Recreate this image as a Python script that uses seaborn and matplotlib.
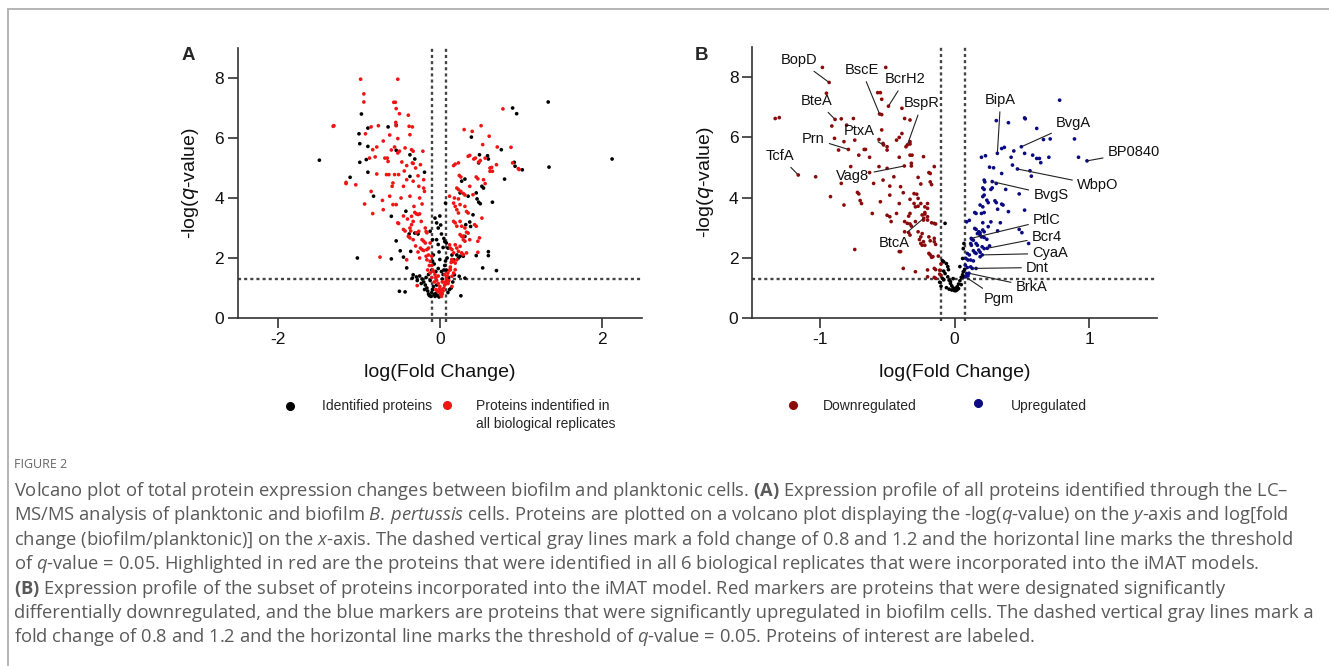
import numpy as np
import pandas as pd
import matplotlib
matplotlib.use("Agg")
import matplotlib.pyplot as plt
import seaborn as sns
from matplotlib.lines import Line2D

# ---- panel A: all identified proteins (x = log fold change, y = -log q) ----
a_identified = [
    (-1.49, 5.26), (-1.11, 4.69), (-1.02, 2.00), (-1.00, 6.14), (-0.97, 6.80), (-0.99, 5.81),
    (-0.99, 5.19), (-0.89, 6.33), (-0.89, 5.72), (-0.91, 5.28), (-0.89, 4.86), (-0.82, 4.06),
    (-0.64, 6.37), (-0.54, 6.43), (-0.54, 5.59), (-0.37, 5.44), (-0.31, 5.30), (-0.37, 4.72),
    (-0.19, 4.86), (-0.42, 3.56), (-0.60, 3.39), (-0.38, 2.80), (-0.54, 2.57), (-0.31, 2.83),
    (-0.27, 2.80), (-0.49, 2.24), (-0.36, 2.22), (-0.41, 1.67), (-0.45, 2.03), (-0.60, 1.97),
    (-0.50, 0.89), (-0.43, 0.87), (-0.33, 1.44), (-0.34, 1.33), (-0.29, 1.37), (-0.12, 2.89),
    (-0.09, 2.61), (-0.08, 2.10), (-0.09, 1.89), (-0.06, 3.33), (-0.04, 3.17), (-0.02, 3.00),
    (0.02, 2.80), (-0.04, 2.61), (0.07, 3.83), (0.06, 2.55), (0.08, 2.50), (0.10, 2.33),
    (0.15, 2.10), (0.17, 1.94), (0.21, 2.10), (0.23, 2.00), (0.29, 2.72), (0.31, 2.72),
    (0.32, 3.11), (0.37, 3.20), (0.38, 3.05), (0.41, 3.44), (0.27, 4.56), (0.31, 4.63),
    (0.35, 4.06), (0.25, 4.17), (0.45, 4.17), (0.46, 3.97), (0.48, 3.86), (0.50, 3.81),
    (0.52, 4.39), (0.54, 4.33), (0.39, 6.03), (0.48, 5.17), (0.49, 5.44), (0.59, 5.41),
    (0.60, 5.30), (0.65, 3.86), (0.76, 5.61), (0.80, 4.63), (0.90, 7.00), (0.95, 6.81),
    (0.92, 5.19), (0.93, 5.06), (1.02, 4.94), (1.34, 7.20), (1.35, 5.03), (2.13, 5.30),
    (0.60, 2.21), (0.60, 2.08), (0.70, 1.58), (0.53, 1.67), (0.45, 2.08), (0.29, 2.06),
    (0.25, 2.06), (0.26, 0.74), (0.31, 1.33), (0.24, 1.39), (0.18, 1.44),
    (-0.25, 1.40), (-0.22, 1.30), (-0.20, 1.20), (-0.18, 1.10), (-0.16, 1.00), (-0.15, 0.90),
    (-0.14, 0.80), (-0.13, 0.75), (-0.11, 0.72), (-0.10, 0.85), (-0.09, 0.95), (-0.08, 1.05),
    (-0.07, 0.78), (-0.06, 0.72), (-0.05, 0.82), (-0.04, 1.10), (-0.03, 0.75), (-0.01, 0.70),
    (0.01, 0.82), (0.03, 1.30), (0.04, 1.45), (0.05, 1.60), (0.06, 1.75), (0.07, 1.90),
    (0.09, 2.00), (0.02, 1.55), (-0.02, 1.65), (-0.05, 1.55), (-0.12, 1.25), (-0.14, 1.45),
    (-0.17, 1.35), (-0.19, 0.95), (-0.23, 1.15), (-0.28, 1.25), (0.10, 0.85), (0.12, 0.95),
    (0.14, 1.00), (0.16, 1.20), (0.11, 1.35), (0.08, 1.60), (-0.10, 1.60), (-0.07, 1.80),
    (-0.01, 2.20), (0.00, 1.95), (0.04, 2.35), (0.05, 2.65), (-0.02, 2.45), (0.01, 3.10),
    (0.00, 3.40),
]

a_all_reps = [
    (-0.98, 7.96), (-0.52, 7.96), (-0.94, 7.47), (-0.94, 7.20), (-0.57, 7.19), (-0.55, 7.19),
    (-0.54, 6.98), (-0.50, 6.81), (-0.39, 6.76), (-1.32, 6.39), (-1.31, 6.41), (-0.76, 6.41),
    (-0.85, 6.37), (-0.92, 6.14), (-0.545, 6.52), (-0.54, 6.41), (-0.38, 6.39), (-0.34, 6.37),
    (-0.52, 5.98), (-0.37, 6.11), (-0.78, 5.70), (-0.83, 5.61), (-0.87, 5.33), (-0.80, 5.37),
    (-0.68, 5.33), (-0.65, 5.33), (-0.56, 5.70), (-0.43, 5.67), (-0.50, 5.56), (-0.52, 5.50),
    (-0.35, 5.61), (-0.33, 5.56), (-0.21, 5.56), (-0.64, 5.22), (-0.34, 5.17), (-0.33, 5.15),
    (-0.41, 5.08), (-0.24, 5.11), (-1.16, 4.52), (-1.16, 4.48), (-1.04, 4.44), (-0.93, 3.80),
    (-0.83, 3.48), (-0.78, 4.80), (-0.66, 4.78), (-0.63, 4.78), (-0.56, 4.78), (-0.51, 4.78),
    (-0.41, 4.61), (-0.27, 4.74), (-0.20, 4.61), (-0.58, 4.50), (-0.59, 4.39), (-0.45, 4.39),
    (-0.33, 4.56), (-0.26, 4.39), (-0.85, 4.22), (-0.62, 4.06), (-0.71, 3.92), (-0.70, 3.61),
    (-0.58, 3.78), (-0.54, 3.78), (-0.37, 4.06), (-0.32, 3.72), (-0.31, 3.52), (-0.29, 3.47),
    (-0.27, 3.45), (-0.25, 3.47), (-0.35, 3.39), (-0.20, 4.33), (-0.19, 4.22), (-0.33, 3.22),
    (-0.35, 3.11), (-0.23, 3.22), (-0.52, 3.17), (-0.51, 3.15), (-0.45, 2.95), (-0.43, 2.90),
    (-0.37, 3.00), (-0.36, 2.90), (-0.39, 2.72), (-0.37, 2.67), (-0.33, 2.61), (-0.29, 2.84),
    (-0.26, 2.89), (-0.17, 2.88), (-0.16, 2.84), (-0.22, 2.61), (-0.20, 2.56), (-0.18, 2.50),
    (-0.24, 2.33), (-0.22, 2.28), (-0.20, 2.25), (-0.16, 2.28), (-0.14, 2.33), (-0.17, 2.06),
    (-0.16, 1.94), (-0.12, 1.89), (-0.10, 2.06), (-0.74, 2.03), (-0.41, 1.94), (-0.28, 1.08),
    (-0.30, 2.40), (-0.27, 2.20), (-0.25, 2.00), (-0.45, 3.40), (-0.40, 3.30), (-0.48, 4.00),
    (-0.44, 4.90), (-0.60, 5.60), (-0.70, 5.90), (-0.62, 6.10), (-0.47, 5.20), (-0.30, 5.00),
    (-0.25, 4.00), (-0.22, 3.80), (-0.18, 3.00), (-0.12, 2.50), (-0.14, 2.10), (-0.10, 1.75),
    (-0.09, 1.60),
    (-0.08, 1.55), (-0.06, 1.45), (-0.05, 1.35), (-0.04, 1.25), (-0.02, 1.15), (0.00, 1.05),
    (0.02, 0.95), (-0.03, 0.90), (0.00, 0.85), (0.01, 0.78), (0.03, 0.80), (0.04, 0.90),
    (0.05, 1.00), (0.06, 1.10), (0.07, 1.20), (0.08, 1.30), (-0.01, 0.95), (-0.07, 1.20),
    (-0.10, 1.35), (-0.12, 1.50), (-0.15, 1.60), (-0.13, 1.75), (0.09, 1.40), (0.10, 1.50),
    (0.12, 1.60), (0.11, 1.25), (0.10, 1.15), (0.03, 1.20), (-0.02, 1.40), (0.02, 0.72),
    (-0.05, 0.95), (0.06, 1.45), (0.13, 1.70), (0.14, 1.85), (0.15, 1.95),
    (0.78, 6.97), (0.51, 6.41), (0.30, 6.28), (0.40, 6.22), (0.61, 6.06), (0.53, 5.78),
    (0.71, 5.70), (0.88, 5.69), (0.35, 5.39), (0.37, 5.42), (0.42, 5.30), (0.44, 5.33),
    (0.17, 5.08), (0.19, 5.13), (0.23, 5.17), (0.48, 5.20), (0.50, 5.25), (0.56, 5.33),
    (0.62, 5.00), (0.64, 5.02), (0.65, 4.89), (0.62, 4.89), (0.70, 5.11), (0.90, 5.17),
    (0.97, 4.98), (0.98, 4.95), (0.24, 4.75), (0.26, 4.70), (0.45, 4.70), (0.47, 4.64),
    (0.54, 4.61), (0.56, 4.48), (0.21, 4.33), (0.23, 4.28), (0.26, 4.22), (0.12, 4.06),
    (0.18, 4.00), (0.23, 3.97), (0.29, 4.15), (0.31, 4.10), (0.37, 4.39), (0.41, 4.11),
    (0.17, 3.83), (0.19, 3.72), (0.21, 3.61), (0.23, 3.50), (0.25, 3.78), (0.31, 3.72),
    (0.33, 3.55), (0.35, 3.50), (0.17, 3.22), (0.19, 3.17), (0.21, 3.06), (0.25, 3.22),
    (0.27, 3.06), (0.31, 3.00), (0.33, 2.86), (0.43, 3.11), (0.45, 3.06), (0.52, 3.33),
    (0.25, 2.78), (0.27, 2.72), (0.29, 2.61), (0.31, 2.56), (0.29, 2.72), (0.35, 2.83),
    (0.37, 2.61), (0.49, 2.67), (0.47, 2.56), (0.12, 2.44), (0.13, 2.33), (0.15, 2.28),
    (0.17, 2.17), (0.19, 2.44), (0.21, 2.33), (0.23, 2.22), (0.25, 2.39), (0.27, 2.17),
    (0.29, 2.11), (0.33, 2.17), (0.47, 2.19), (0.15, 1.94), (0.17, 1.89), (0.19, 1.83),
    (0.21, 1.94), (0.13, 1.61), (0.17, 1.50), (0.19, 1.61), (0.15, 1.39), (0.08, 1.22),
    (0.10, 1.17), (0.06, 1.11), (0.15, 1.05),
]

# ---- panel B: iMAT subset ----
b_down = [
    (-0.98, 8.33), (-0.93, 7.83), (-0.95, 7.47), (-0.51, 8.33), (-0.57, 7.49), (-0.55, 7.49),
    (-0.54, 7.27), (-0.49, 7.04), (-0.39, 6.97), (-1.33, 6.63), (-1.30, 6.66), (-0.886, 6.60),
    (-0.84, 6.62), (-0.75, 6.63), (-0.80, 6.41), (-0.91, 6.38), (-0.556, 6.78), (-0.54, 6.76),
    (-0.37, 6.63), (-0.33, 6.58), (-0.54, 6.25), (-0.89, 5.97), (-0.82, 5.86), (-0.74, 5.91),
    (-0.56, 5.93), (-0.53, 5.80), (-0.526, 5.75), (-0.50, 5.69), (-0.43, 5.91), (-0.41, 6.00),
    (-0.39, 6.13), (-0.33, 5.86), (-0.33, 5.78), (-0.35, 5.75), (-0.36, 5.69), (-0.86, 5.58),
    (-0.67, 5.60), (-0.66, 5.60), (-0.787, 5.60), (-0.71, 5.41), (-0.63, 5.34), (-0.50, 5.58),
    (-0.41, 5.34), (-0.33, 5.41), (-0.315, 5.41), (-0.23, 5.36), (-0.77, 5.03), (-0.56, 5.03),
    (-0.50, 4.97), (-0.372, 5.05), (-0.32, 5.14), (-0.32, 5.05), (-0.15, 5.03), (-1.159, 4.75),
    (-1.03, 4.69), (-0.63, 4.83), (-0.53, 4.58), (-0.45, 4.69), (-0.27, 4.67), (-0.19, 4.83),
    (-0.18, 4.80), (-0.84, 4.47), (-0.60, 4.47), (-0.48, 4.38), (-0.40, 4.36), (-0.25, 4.45),
    (-0.18, 4.52), (-0.17, 4.43), (-0.72, 4.17), (-0.71, 4.12), (-0.92, 4.03), (-0.48, 4.08),
    (-0.38, 4.16), (-0.30, 4.13), (-0.28, 4.11), (-0.33, 3.94), (-0.27, 3.97), (-0.25, 3.80),
    (-0.70, 3.90), (-0.69, 3.80), (-0.82, 3.75), (-0.55, 3.86), (-0.41, 3.80), (-0.30, 3.80),
    (-0.29, 3.69), (-0.27, 3.71), (-0.22, 3.69), (-0.20, 3.64), (-0.20, 3.80), (-0.61, 3.47),
    (-0.50, 3.41), (-0.48, 3.36), (-0.43, 3.47), (-0.33, 3.47), (-0.34, 3.38), (-0.24, 3.42),
    (-0.22, 3.45), (-0.23, 3.25), (-0.228, 3.31), (-0.22, 3.50), (-0.20, 3.36), (-0.20, 3.25),
    (-0.47, 3.20), (-0.37, 3.20), (-0.35, 3.14), (-0.33, 3.12), (-0.32, 3.05), (-0.29, 3.20),
    (-0.17, 3.16), (-0.15, 3.14), (-0.14, 3.12), (-0.37, 2.86), (-0.34, 2.83), (-0.33, 2.75),
    (-0.27, 2.86), (-0.24, 2.80), (-0.25, 2.69), (-0.26, 2.60), (-0.23, 2.53), (-0.19, 2.69),
    (-0.18, 2.56), (-0.15, 2.64), (-0.25, 2.47), (-0.24, 2.41), (-0.22, 2.41), (-0.15, 2.53),
    (-0.14, 2.44), (-0.19, 2.14), (-0.18, 2.09), (-0.17, 2.01), (-0.16, 2.03), (-0.12, 2.05),
    (-0.41, 2.20), (-0.40, 2.20), (-0.74, 2.27), (-0.38, 1.64), (-0.29, 1.53), (-0.20, 1.59),
    (-0.15, 1.64), (-0.14, 1.60), (-0.11, 1.58), (-0.10, 1.79), (-0.20, 1.36), (-0.15, 1.34),
    (-0.14, 1.31), (-0.11, 1.45), (-0.10, 1.41),
]

b_up = [
    (0.78, 7.24), (0.31, 6.56), (0.40, 6.49), (0.52, 6.65), (0.525, 6.62), (0.61, 6.30),
    (0.66, 5.93), (0.71, 5.95), (0.89, 5.95), (0.496, 5.69), (0.52, 5.47), (0.58, 5.41),
    (0.61, 5.30), (0.63, 5.30), (0.64, 5.16), (0.70, 5.34), (0.92, 5.34), (0.983, 5.22),
    (0.318, 5.47), (0.35, 5.63), (0.37, 5.67), (0.44, 5.55), (0.42, 5.34), (0.20, 5.34),
    (0.23, 5.39), (0.26, 5.01), (0.29, 4.99), (0.43, 5.08), (0.467, 4.95), (0.56, 4.89),
    (0.57, 4.71), (0.35, 4.80), (0.22, 4.58), (0.225, 4.52), (0.28, 4.53), (0.31, 4.47),
    (0.21, 4.32), (0.22, 4.27), (0.27, 4.27), (0.28, 4.32), (0.38, 4.27), (0.48, 4.12),
    (0.22, 4.08), (0.21, 4.03), (0.24, 3.91), (0.25, 3.83), (0.30, 3.89), (0.31, 3.83),
    (0.35, 3.78), (0.36, 3.75), (0.19, 3.75), (0.21, 3.69), (0.15, 3.50), (0.16, 3.47),
    (0.20, 3.47), (0.22, 3.50), (0.32, 3.61), (0.40, 3.53), (0.52, 3.58), (0.09, 3.19),
    (0.11, 3.24), (0.21, 3.16), (0.27, 3.19), (0.34, 3.16), (0.15, 2.97), (0.16, 2.94),
    (0.18, 2.86), (0.19, 2.83), (0.21, 2.92), (0.22, 2.86), (0.25, 3.03), (0.32, 2.89),
    (0.48, 2.94), (0.50, 2.83), (0.124, 2.64), (0.13, 2.61), (0.14, 2.58), (0.17, 2.80),
    (0.19, 2.75), (0.20, 2.69), (0.22, 2.67), (0.24, 2.61), (0.243, 2.31), (0.12, 2.47),
    (0.125, 2.41), (0.16, 2.47), (0.17, 2.41), (0.205, 2.36), (0.22, 2.30), (0.26, 2.39),
    (0.55, 2.47), (0.14, 2.23), (0.15, 2.17), (0.16, 2.14), (0.18, 2.25), (0.19, 2.18),
    (0.206, 2.09), (0.095, 2.14), (0.11, 2.09), (0.085, 1.97), (0.10, 1.92), (0.12, 1.92),
    (0.14, 1.89), (0.19, 2.03), (0.08, 1.75), (0.095, 1.67), (0.12, 1.69), (0.132, 1.64),
    (0.16, 1.64), (0.09, 1.47), (0.10, 1.39), (0.107, 1.48), (0.082, 1.36),
]

b_ns = [
    (-0.07, 3.14), (0.065, 2.30), (0.07, 2.47), (-0.09, 1.90), (-0.08, 1.86), (-0.05, 1.70),
    (-0.045, 1.60), (-0.07, 1.47), (-0.05, 1.36), (-0.04, 1.25), (-0.03, 1.14), (-0.02, 1.06),
    (-0.01, 0.99), (0.00, 0.94), (0.01, 0.98), (0.00, 0.90), (0.01, 0.90), (0.02, 1.03),
    (0.03, 1.12), (0.04, 1.23), (0.05, 1.34), (0.06, 1.43), (0.065, 1.53), (0.075, 1.61),
    (0.07, 1.36), (-0.09, 1.31), (-0.08, 1.26), (-0.03, 1.20), (0.06, 1.97), (-0.06, 1.00),
    (-0.04, 0.95), (-0.02, 0.92), (0.02, 0.93), (0.03, 0.97), (-0.08, 1.55), (-0.06, 1.80),
    (0.04, 1.70), (0.05, 1.10), (-0.01, 1.30), (-0.10, 1.05), (-0.11, 1.18),
]

# labelled proteins: name, point, text position
b_labels = [
    ("BopD", (-0.93, 7.83), (-1.154, 8.57)),
    ("BscE", (-0.556, 6.78), (-0.69, 8.24)),
    ("BcrH2", (-0.49, 7.04), (-0.365, 7.93)),
    ("BteA", (-0.886, 6.60), (-1.02, 7.21)),
    ("BspR", (-0.35, 5.75), (-0.24, 7.13)),
    ("PtxA", (-0.526, 5.75), (-0.71, 6.22)),
    ("Prn", (-0.787, 5.60), (-1.047, 5.96)),
    ("TcfA", (-1.159, 4.75), (-1.295, 5.38)),
    ("Vag8", (-0.372, 5.05), (-0.754, 4.71)),
    ("BtcA", (-0.228, 3.31), (-0.45, 2.47)),
    ("BipA", (0.318, 5.47), (0.342, 7.24)),
    ("BvgA", (0.496, 5.69), (0.883, 6.47)),
    ("BP0840", (0.983, 5.22), (1.33, 5.50)),
    ("WbpO", (0.467, 4.95), (1.062, 4.41)),
    ("BvgS", (0.28, 4.53), (0.715, 4.08)),
    ("PtlC", (0.124, 2.64), (0.685, 3.25)),
    ("Bcr4", (0.243, 2.31), (0.685, 2.70)),
    ("CyaA", (0.206, 2.09), (0.71, 2.14)),
    ("Dnt", (0.132, 1.64), (0.615, 1.67)),
    ("BrkA", (0.107, 1.48), (0.571, 1.03)),
    ("Pgm", (0.082, 1.36), (0.33, 0.61)),
]

caption_lines = [
    r"Volcano plot of total protein expression changes between biofilm and planktonic cells. $\mathbf{(A)}$ Expression profile of all proteins identified through the LC–",
    r"MS/MS analysis of planktonic and biofilm $\mathit{B.\,pertussis}$ cells. Proteins are plotted on a volcano plot displaying the -log($\mathit{q}$-value) on the $\mathit{y}$-axis and log[fold",
    r"change (biofilm/planktonic)] on the $\mathit{x}$-axis. The dashed vertical gray lines mark a fold change of 0.8 and 1.2 and the horizontal line marks the threshold",
    r"of $\mathit{q}$-value = 0.05. Highlighted in red are the proteins that were identified in all 6 biological replicates that were incorporated into the iMAT models.",
    r"$\mathbf{(B)}$ Expression profile of the subset of proteins incorporated into the iMAT model. Red markers are proteins that were designated significantly",
    r"differentially downregulated, and the blue markers are proteins that were significantly upregulated in biofilm cells. The dashed vertical gray lines mark a",
    r"fold change of 0.8 and 1.2 and the horizontal line marks the threshold of $\mathit{q}$-value = 0.05. Proteins of interest are labeled.",
]

RED = "#f01414"
DARKRED = "#8b0a0a"
NAVY = "#0a0a82"
GRID = "#444444"

sns.set_style("ticks")
plt.rcParams["font.family"] = ["Liberation Sans", "DejaVu Sans"]
plt.rcParams["axes.unicode_minus"] = False
plt.rcParams["mathtext.fontset"] = "custom"
plt.rcParams["mathtext.rm"] = "Open Sans"
plt.rcParams["mathtext.it"] = "Open Sans:italic"
plt.rcParams["mathtext.bf"] = "Open Sans:bold"

W, H = 1329, 666
fig = plt.figure(figsize=(W / 100, H / 100), dpi=100)
axA = fig.add_axes([237.7 / W, 1 - 318 / H, 404.3 / W, 270 / H])
axB = fig.add_axes([752.3 / W, 1 - 317.7 / H, 404.4 / W, 270.4 / H])

dfA = pd.concat([
    pd.DataFrame(a_identified, columns=["fc", "q"]).assign(group="Identified proteins"),
    pd.DataFrame(a_all_reps, columns=["fc", "q"]).assign(group="All replicates"),
])
dfB = pd.concat([
    pd.DataFrame(b_ns, columns=["fc", "q"]).assign(group="ns"),
    pd.DataFrame(b_down, columns=["fc", "q"]).assign(group="Downregulated"),
    pd.DataFrame(b_up, columns=["fc", "q"]).assign(group="Upregulated"),
])

sns.scatterplot(data=dfA, x="fc", y="q", hue="group", ax=axA, s=7, linewidth=0,
                palette={"Identified proteins": "black", "All replicates": RED},
                legend=False, zorder=3)
sns.scatterplot(data=dfB, x="fc", y="q", hue="group", ax=axB, s=7, linewidth=0,
                palette={"ns": "black", "Downregulated": DARKRED, "Upregulated": NAVY},
                legend=False, zorder=3)

for ax, xlim, xticks in [(axA, (-2.5, 2.5), [-2, 0, 2]), (axB, (-1.5, 1.5), [-1, 0, 1])]:
    ax.set_xlim(*xlim)
    ax.set_ylim(0, 9)
    ax.set_xticks(xticks)
    ax.set_yticks([0, 2, 4, 6, 8])
    for v in (np.log10(0.8), np.log10(1.2)):
        ax.axvline(v, ymin=-0.014, ymax=1, clip_on=False, color=GRID, lw=1.7,
                   ls=(0, (1.3, 1.3)), zorder=2)
    ax.axhline(-np.log10(0.05), color=GRID, lw=1.7, ls=(0, (1.3, 1.3)), zorder=2)
    sns.despine(ax=ax)
    for side in ("left", "bottom"):
        ax.spines[side].set_color("#333333")
        ax.spines[side].set_linewidth(1.2)
    ax.tick_params(direction="out", length=7, width=1.2, color="#333333",
                   labelsize=12.5, labelcolor="#111111", pad=3)
    ax.set_xlabel("log(Fold Change)", fontsize=14, color="#111111")
    ax.set_ylabel(r"-log($\mathit{q}$-value)", fontsize=14, color="#111111",
                  math_fontfamily="dejavusans")
    ax.xaxis.set_label_coords(0.5, -0.17)
    ax.yaxis.set_label_coords(-0.09, 0.5)

for name, pt, txt in b_labels:
    axB.annotate(name, xy=pt, xytext=txt, ha="center", va="center", fontsize=10.5,
                 color="#111111",
                 arrowprops=dict(arrowstyle="-", color="#222222", lw=0.8,
                                 shrinkA=1, shrinkB=1))

fig.text(188 / W, 1 - 55 / H, "A", fontsize=13.5, fontweight="bold", ha="center", va="center")
fig.text(702 / W, 1 - 55 / H, "B", fontsize=13.5, fontweight="bold", ha="center", va="center")

# legends
def legend_dot(x, y, color):
    fig.add_artist(Line2D([x / W], [1 - y / H], marker="o", markersize=5.5, color=color,
                          linestyle="none", transform=fig.transFigure))

legend_dot(290, 406, "black")
fig.text(321.7 / W, 1 - 406 / H, "Identified proteins", fontsize=10, va="center")
legend_dot(446.7, 405, RED)
fig.text(475.7 / W, 1 - 406 / H, "Proteins indentified in", fontsize=10, va="center")
fig.text(475.7 / W, 1 - 424 / H, "all biological replicates", fontsize=10, va="center")
legend_dot(793, 405, DARKRED)
fig.text(823.3 / W, 1 - 406 / H, "Downregulated", fontsize=10, va="center")
legend_dot(978.3, 403, NAVY)
fig.text(1010.7 / W, 1 - 406 / H, "Upregulated", fontsize=10, va="center")

# caption
fig.text(14 / W, 1 - 465 / H, "FIGURE 2", fontsize=9, color="#666666", va="center",
         fontfamily="Open Sans")
for i, line in enumerate(caption_lines):
    fig.text(14 / W, 1 - (491 + i * 24.4) / H, line, fontsize=13.2, color="#5a5a5a",
             va="center", fontfamily="Open Sans")

# outer frame (top and left edges)
fig.add_artist(Line2D([7.5 / W, 1], [1 - 9 / H, 1 - 9 / H], color="#b4b4b4", lw=1.4,
                      transform=fig.transFigure))
fig.add_artist(Line2D([7.5 / W, 7.5 / W], [0, 1 - 9 / H], color="#b4b4b4", lw=1.4,
                      transform=fig.transFigure))

fig.savefig("out.png", dpi=100)
